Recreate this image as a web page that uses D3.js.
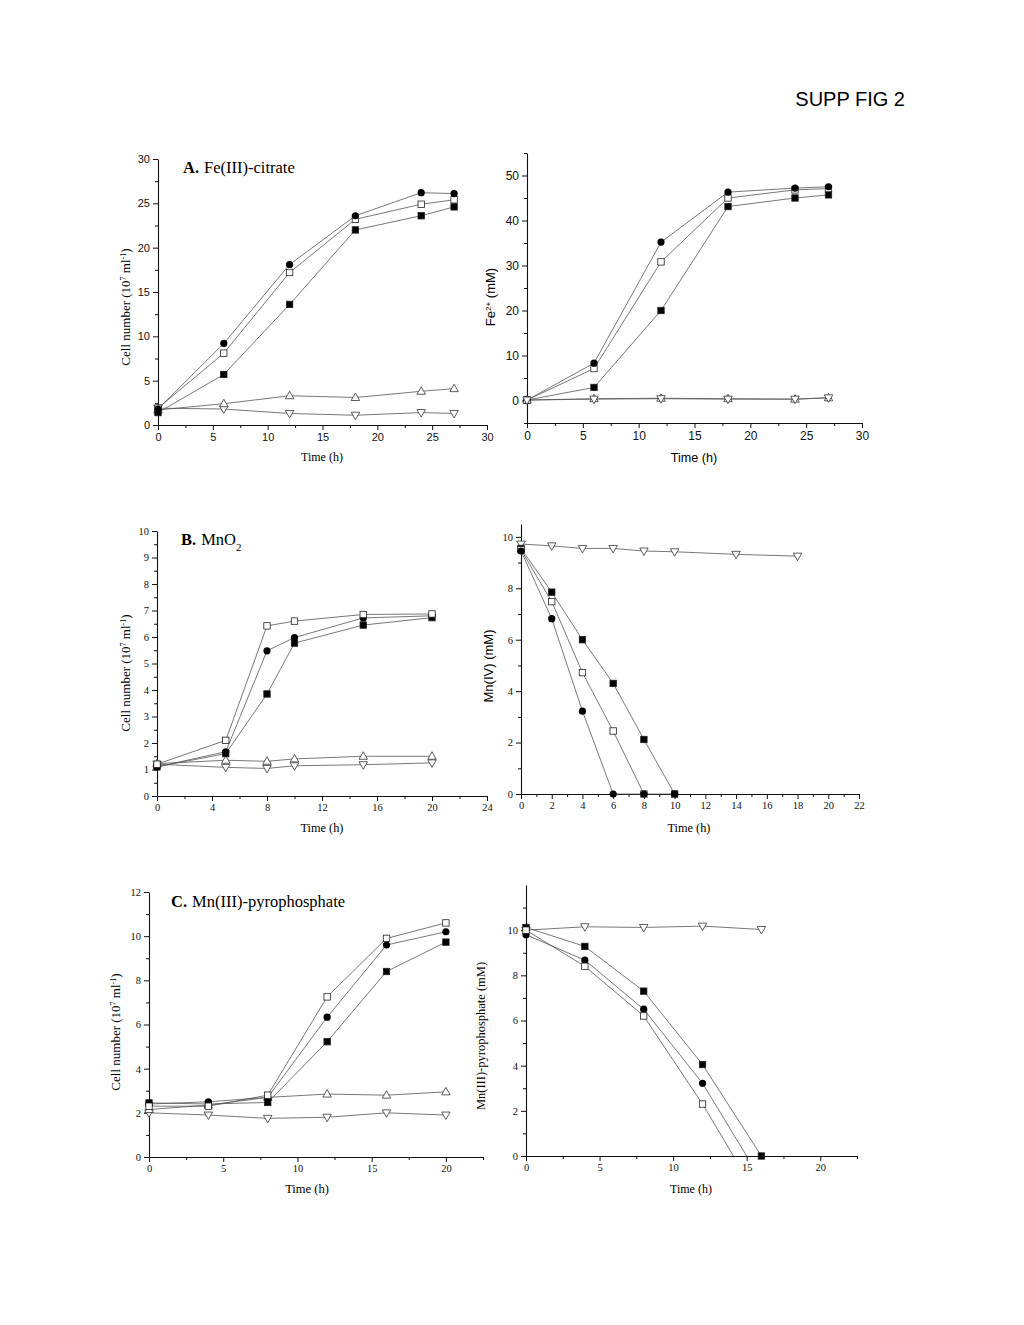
<!DOCTYPE html>
<html><head><meta charset="utf-8">
<script src="https://cdn.jsdelivr.net/npm/d3@7"></script>
<style>body{margin:0;background:#fff;} svg{display:block;}</style>
</head><body>
<script>
// ---------- DATA ----------
const timeA = [0, 6, 12, 18, 24, 27];
const cellA_circle   = [1.8, 9.2, 18.1, 23.6, 26.2, 26.1];
const cellA_sqOpen   = [1.9, 8.1, 17.2, 23.2, 24.9, 25.4];
const cellA_sqFilled = [1.4, 5.7, 13.6, 22.0, 23.6, 24.6];
const cellA_triUp    = [1.7, 2.4, 3.3, 3.1, 3.8, 4.1];
const cellA_triDown  = [1.9, 1.8, 1.3, 1.1, 1.4, 1.3];

const feA_circle   = [0.1, 8.3, 35.2, 46.3, 47.2, 47.5];
const feA_sqOpen   = [0.1, 7.1, 30.8, 45.0, 46.8, 47.1];
const feA_sqFilled = [0.1, 2.9, 20.0, 43.1, 45.0, 45.7];
const feA_triUp    = [0.1, 0.4, 0.5, 0.4, 0.3, 0.6];
const feA_triDown  = [0.1, 0.3, 0.4, 0.3, 0.3, 0.6];

const timeB = [0, 5, 8, 10, 15, 20];
const cellB_sqOpen   = [1.2, 2.1, 6.42, 6.6, 6.85, 6.87];
const cellB_circle   = [1.1, 1.67, 5.48, 5.98, 6.72, 6.8];
const cellB_sqFilled = [1.1, 1.6, 3.85, 5.77, 6.45, 6.73];
const cellB_triUp    = [1.22, 1.35, 1.31, 1.4, 1.5, 1.5];
const cellB_triDown  = [1.2, 1.08, 1.04, 1.14, 1.18, 1.25];

const timeBr_down = [0, 2, 4, 6, 8, 10, 14, 18];
const mnB_triDown = [9.72, 9.65, 9.55, 9.55, 9.45, 9.42, 9.32, 9.25];
const timeBr_circle = [0, 2, 4, 6, 8, 10];
const mnB_circle    = [9.45, 6.82, 3.22, 0, 0, 0];
const timeBr_sqOpen = [0, 2, 4, 6, 8];
const mnB_sqOpen    = [9.5, 7.48, 4.72, 2.45, 0];
const timeBr_sqFilled = [0, 2, 4, 6, 8, 10];
const mnB_sqFilled    = [9.55, 7.85, 6.0, 4.3, 2.12, 0];

const timeC = [0, 4, 8, 12, 16, 20];
const cellC_sqOpen   = [2.3, 2.3, 2.8, 7.25, 9.9, 10.6];
const cellC_circle   = [2.4, 2.5, 2.7, 6.33, 9.6, 10.2];
const cellC_sqFilled = [2.45, 2.4, 2.47, 5.22, 8.4, 9.73];
const cellC_triUp    = [2.15, 2.35, 2.7, 2.85, 2.8, 2.95];
const cellC_triDown  = [2.0, 1.9, 1.75, 1.8, 2.0, 1.9];

const timeCr_down = [0, 4, 8, 12, 16];
const mnC_triDown = [10.0, 10.15, 10.12, 10.18, 10.03];
const timeCr_sqFilled = [0, 4, 8, 12, 16];
const mnC_sqFilled    = [10.12, 9.28, 7.3, 4.05, 0];
const timeCr_circle = [0, 4, 8, 12, 15];
const mnC_circle    = [9.8, 8.67, 6.5, 3.22, 0];
const timeCr_sqOpen = [0, 4, 8, 12, 14.1];
const mnC_sqOpen    = [10.0, 8.4, 6.2, 2.3, 0];

// ---------- DRAW ----------
const W = 1024, H = 1325;
const svg = d3.select("body").append("svg").attr("width", W).attr("height", H);
const SERIF = "'Liberation Serif','Times New Roman',serif";
const SANS = "'Liberation Sans',Arial,sans-serif";

svg.append("text").attr("x", 905).attr("y", 106).attr("text-anchor", "end")
  .attr("font-family", SANS).attr("font-size", 20).text("SUPP FIG 2");

function zip(xs, ys){ return xs.map((x,i)=>({x, y: ys[i]})); }

function marker(g, type, cx, cy){
  const s = 6.4;
  if (type === "circle") {
    g.append("circle").attr("cx", cx).attr("cy", cy).attr("r", 3.6).attr("fill", "#000");
  } else if (type === "sqOpen" || type === "sqFilled") {
    g.append("rect").attr("x", cx - s/2).attr("y", cy - s/2).attr("width", s).attr("height", s)
      .attr("fill", type === "sqFilled" ? "#000" : "#fff").attr("stroke", "#222").attr("stroke-width", 0.8);
  } else {
    const h = 7.5, w = 8.5;
    const dir = type === "triUp" ? -1 : 1;
    const pts = [[cx, cy + dir*h*0.6], [cx - w/2, cy - dir*h*0.4], [cx + w/2, cy - dir*h*0.4]];
    g.append("polygon").attr("points", pts.map(p=>p.join(",")).join(" "))
      .attr("fill", "#fff").attr("stroke", "#333").attr("stroke-width", 0.8);
  }
}

function panel(cfg){
  const x = d3.scaleLinear().domain(cfg.xDomain).range(cfg.xRange);
  const y = d3.scaleLinear().domain(cfg.yDomain).range(cfg.yRange);
  const g = svg.append("g");
  const tickFont = cfg.tickFont, tickSize = cfg.tickSizePx || 10;

  const xAxis = d3.axisBottom(x).tickValues(cfg.xTicks).tickSize(5).tickSizeOuter(0).tickPadding(3)
    .tickFormat(d3.format("d"));
  const gx = g.append("g").attr("transform", `translate(0,${cfg.yRange[0]})`).call(xAxis);
  const xMinor = d3.axisBottom(x).tickValues(cfg.xMinor).tickSize(3).tickSizeOuter(0).tickFormat("");
  g.append("g").attr("transform", `translate(0,${cfg.yRange[0]})`).call(xMinor).select(".domain").remove();
  const yAxis = d3.axisLeft(y).tickValues(cfg.yTicks).tickSize(5).tickSizeOuter(0).tickPadding(3)
    .tickFormat(d3.format("d"));
  const gy = g.append("g").attr("transform", `translate(${cfg.xRange[0]},0)`).call(yAxis);
  const yMinor = d3.axisLeft(y).tickValues(cfg.yMinor).tickSize(3).tickSizeOuter(0).tickFormat("");
  g.append("g").attr("transform", `translate(${cfg.xRange[0]},0)`).call(yMinor).select(".domain").remove();
  [gx, gy].forEach(a => {
    a.selectAll("text").attr("font-family", tickFont).attr("font-size", tickSize).attr("fill", "#111");
    a.select(".domain").attr("stroke", "#111").attr("stroke-width", 1.1);
  });
  g.selectAll(".tick line").attr("stroke", "#111");

  const line = d3.line().x(d => x(d.x)).y(d => y(d.y));
  cfg.series.forEach(s => {
    g.append("path").datum(s.data).attr("d", line).attr("fill", "none")
      .attr("stroke", "#555").attr("stroke-width", 0.8);
  });
  cfg.series.forEach(s => {
    const mg = g.append("g");
    s.data.forEach((d, i) => {
      if (s.noEndMarker && i === s.data.length - 1) return;
      marker(mg, s.type, x(d.x), y(d.y));
    });
  });

  g.append("text").attr("x", cfg.xTitle[0]).attr("y", cfg.xTitle[1]).attr("text-anchor", "middle")
    .attr("font-family", cfg.xTitleFont).attr("font-size", cfg.xTitleSize || 12).text("Time (h)");
  const ys = cfg.yTitleSize || 12;
  const yt = g.append("text").attr("transform", `translate(${cfg.yTitle[0]},${cfg.yTitle[1]}) rotate(-90)`)
    .attr("text-anchor", "middle").attr("font-family", cfg.yTitleFont).attr("font-size", ys);
  cfg.yTitleParts.forEach(p => {
    const t = yt.append("tspan").text(p.t);
    if (p.sup) t.attr("baseline-shift", "super").attr("font-size", ys * 0.62);
  });
  if (cfg.label) {
    const lt = g.append("text").attr("x", cfg.label.x).attr("y", cfg.label.y)
      .attr("font-family", SERIF).attr("font-size", 16.5);
    lt.append("tspan").attr("font-weight", "bold").text(cfg.label.bold);
    cfg.label.parts.forEach((p, i) => {
      const t = lt.append("tspan").text(p.t);
      if (i === 0) t.attr("dx", 5);
      if (p.sub) t.attr("baseline-shift", "sub").attr("font-size", 11);
    });
  }
}

const cellTitle = [{t:"Cell number (10"},{t:"7",sup:true},{t:" ml"},{t:"-1",sup:true},{t:")"}];
const range = (a,b,s) => d3.range(a, b + 1e-9, s);

// Panel A left
panel({
  xDomain:[0,30], xRange:[158,487], yDomain:[0,30], yRange:[425,159],
  xTicks: range(0,30,5), xMinor: range(2.5,27.5,5), yTicks: range(0,30,5), yMinor: range(2.5,27.5,5),
  tickFont: SANS, tickSizePx: 11,
  xTitle:[322,461], xTitleFont: SERIF, xTitleSize: 12,
  yTitle:[130,307], yTitleFont: SERIF, yTitleSize: 13, yTitleParts: cellTitle,
  label:{x:183, y:173, bold:"A.", parts:[{t:"Fe(III)-citrate"}]},
  series:[
    {type:"triDown", data: zip(timeA, cellA_triDown)},
    {type:"triUp", data: zip(timeA, cellA_triUp)},
    {type:"sqFilled", data: zip(timeA, cellA_sqFilled)},
    {type:"sqOpen", data: zip(timeA, cellA_sqOpen)},
    {type:"circle", data: zip(timeA, cellA_circle)}
  ]
});

// Panel A right
panel({
  xDomain:[0,30], xRange:[527,862], yDomain:[-5,55], yRange:[423,153],
  xTicks: range(0,30,5), xMinor: range(2.5,27.5,5), yTicks: range(0,50,10), yMinor: range(-5,55,10),
  tickFont: SANS, tickSizePx: 12,
  xTitle:[694,462], xTitleFont: SANS, xTitleSize: 12.6,
  yTitle:[495,297], yTitleFont: SANS, yTitleSize: 13,
  yTitleParts:[{t:"Fe"},{t:"2+",sup:true},{t:" (mM)"}],
  series:[
    {type:"sqFilled", data: zip(timeA, feA_sqFilled)},
    {type:"sqOpen", data: zip(timeA, feA_sqOpen)},
    {type:"circle", data: zip(timeA, feA_circle)},
    {type:"triUp", data: zip(timeA, feA_triUp)},
    {type:"triDown", data: zip(timeA, feA_triDown)}
  ]
});

// Panel B left
panel({
  xDomain:[0,24], xRange:[157,487], yDomain:[0,10], yRange:[796,531],
  xTicks: range(0,24,4), xMinor: range(2,22,4), yTicks: range(0,10,1), yMinor: range(0.5,9.5,1),
  tickFont: SERIF, tickSizePx: 10.5,
  xTitle:[322,832], xTitleFont: SERIF, xTitleSize: 12.3,
  yTitle:[130,673], yTitleFont: SERIF, yTitleSize: 13, yTitleParts: cellTitle,
  label:{x:181, y:545, bold:"B.", parts:[{t:"MnO"},{t:"2",sub:true}]},
  series:[
    {type:"triDown", data: zip(timeB, cellB_triDown)},
    {type:"triUp", data: zip(timeB, cellB_triUp)},
    {type:"sqFilled", data: zip(timeB, cellB_sqFilled)},
    {type:"circle", data: zip(timeB, cellB_circle)},
    {type:"sqOpen", data: zip(timeB, cellB_sqOpen)}
  ]
});

// Panel B right
panel({
  xDomain:[0,22], xRange:[521,859], yDomain:[0,10.5], yRange:[794,524],
  xTicks: range(0,22,2), xMinor: range(1,21,2), yTicks: range(0,10,2), yMinor: range(1,9,2),
  tickFont: SERIF, tickSizePx: 10.5,
  xTitle:[689,832], xTitleFont: SERIF, xTitleSize: 12.3,
  yTitle:[493,666], yTitleFont: SANS, yTitleSize: 13, yTitleParts:[{t:"Mn(IV) (mM)"}],
  series:[
    {type:"triDown", data: zip(timeBr_down, mnB_triDown)},
    {type:"sqFilled", data: zip(timeBr_sqFilled, mnB_sqFilled)},
    {type:"sqOpen", data: zip(timeBr_sqOpen, mnB_sqOpen)},
    {type:"circle", data: zip(timeBr_circle, mnB_circle)}
  ]
});

// Panel C left
panel({
  xDomain:[0,22.5], xRange:[149,483], yDomain:[0,12], yRange:[1157,892],
  xTicks: range(0,20,5), xMinor: range(2.5,22.5,5), yTicks: range(0,12,2), yMinor: range(1,11,2),
  tickFont: SERIF, tickSizePx: 10.5,
  xTitle:[307,1193], xTitleFont: SERIF, xTitleSize: 12.5,
  yTitle:[120,1032], yTitleFont: SERIF, yTitleSize: 13, yTitleParts: cellTitle,
  label:{x:171, y:907, bold:"C.", parts:[{t:"Mn(III)-pyrophosphate"}]},
  series:[
    {type:"triDown", data: zip(timeC, cellC_triDown)},
    {type:"triUp", data: zip(timeC, cellC_triUp)},
    {type:"sqFilled", data: zip(timeC, cellC_sqFilled)},
    {type:"circle", data: zip(timeC, cellC_circle)},
    {type:"sqOpen", data: zip(timeC, cellC_sqOpen)}
  ]
});

// Panel C right
panel({
  xDomain:[0,22.5], xRange:[526,857], yDomain:[0,12], yRange:[1156,885],
  xTicks: range(0,20,5), xMinor: range(2.5,22.5,5), yTicks: range(0,10,2), yMinor: range(1,11,2),
  tickFont: SERIF, tickSizePx: 10.5,
  xTitle:[691,1193], xTitleFont: SERIF, xTitleSize: 12,
  yTitle:[485,1036], yTitleFont: SERIF, yTitleSize: 12.5, yTitleParts:[{t:"Mn(III)-pyrophosphate (mM)"}],
  series:[
    {type:"triDown", data: zip(timeCr_down, mnC_triDown)},
    {type:"sqFilled", data: zip(timeCr_sqFilled, mnC_sqFilled)},
    {type:"circle", data: zip(timeCr_circle, mnC_circle), noEndMarker:true},
    {type:"sqOpen", data: zip(timeCr_sqOpen, mnC_sqOpen), noEndMarker:true}
  ]
});
</script>
</body></html>
